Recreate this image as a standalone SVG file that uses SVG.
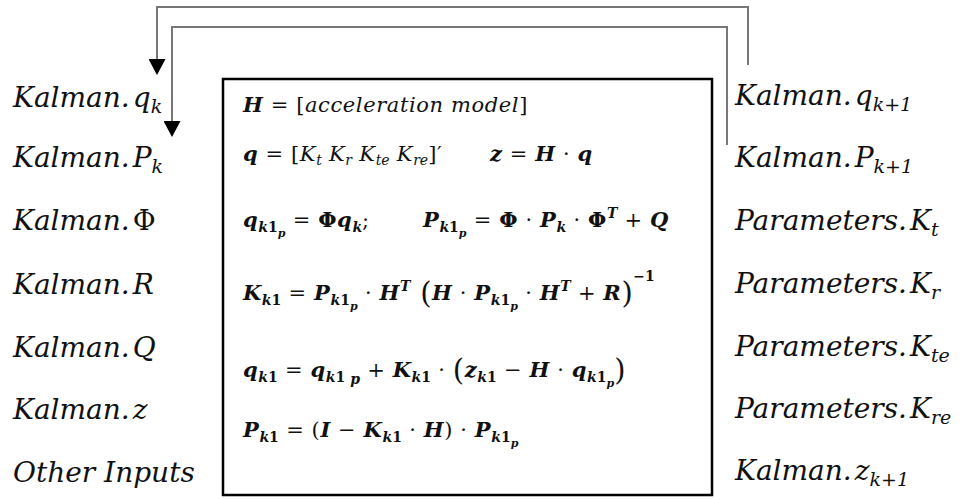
<svg xmlns="http://www.w3.org/2000/svg" width="968" height="499" viewBox="0 0 968 499">
<defs>
<style>
.lbl{font-family:"DejaVu Serif","Liberation Serif",serif;font-style:italic;font-size:28px;fill:#111}
.sub{font-size:19px}
.eq{font-family:"DejaVu Serif","Liberation Serif",serif;font-size:21px;letter-spacing:0.6px;fill:#111}
.b{font-weight:bold;font-style:italic}
.bu{font-weight:bold;font-style:normal}
.i{font-style:italic}
.s{font-size:14px;letter-spacing:0}
.ss{font-size:11px;letter-spacing:0}
.conn{fill:none;stroke:#777;stroke-width:2}
</style>
<marker id="ah" markerUnits="userSpaceOnUse" markerWidth="16" markerHeight="17" refX="0" refY="8.5" orient="auto" viewBox="0 0 16 17">
<path d="M0,0 L16,8.5 L0,17 z" fill="#000"/>
</marker>
</defs>
<rect width="968" height="499" fill="#fff"/>
<g id="connectors">
<path class="conn" d="M748,65 V7 H157 V59" marker-end="url(#ah)"/>
<path class="conn" d="M727,145 V27 H172 V121" marker-end="url(#ah)"/>
</g>
<g id="box">
<rect x="223" y="79" width="489" height="416" fill="none" stroke="#000" stroke-width="2.5"/>
<text class="eq" y="112"><tspan x="243" class="b">H</tspan><tspan> = [</tspan><tspan class="i">acceleration model</tspan><tspan>]</tspan></text>
<text class="eq" y="161"><tspan x="243" class="b">q</tspan><tspan> = [</tspan><tspan class="i">K</tspan><tspan class="i s" y="165">t</tspan><tspan class="i" y="161"> K</tspan><tspan class="i s" y="165">r</tspan><tspan class="i" y="161"> K</tspan><tspan class="i s" y="165">te</tspan><tspan class="i" y="161"> K</tspan><tspan class="i s" y="165">re</tspan><tspan y="161">]′</tspan><tspan x="490" class="b">z</tspan><tspan> = </tspan><tspan class="b">H</tspan><tspan> · </tspan><tspan class="b">q</tspan></text>
<text class="eq" y="227"><tspan x="243" class="b">q</tspan><tspan class="b s" y="232">k</tspan><tspan class="s" font-weight="bold">1</tspan><tspan class="ss b" y="237">p</tspan><tspan y="227"> = </tspan><tspan class="bu">Φ</tspan><tspan class="b">q</tspan><tspan class="b s" y="232">k</tspan><tspan y="227">;</tspan><tspan x="423" class="b">P</tspan><tspan class="b s" y="232">k</tspan><tspan class="s" font-weight="bold">1</tspan><tspan class="ss b" y="237">p</tspan><tspan y="227"> = </tspan><tspan class="bu">Φ</tspan><tspan> · </tspan><tspan class="b">P</tspan><tspan class="b s" y="232">k</tspan><tspan y="227"> · </tspan><tspan class="bu">Φ</tspan><tspan class="b s" y="218">T</tspan><tspan y="227"> + </tspan><tspan class="b">Q</tspan></text>
<text class="eq" y="300"><tspan x="243" class="b">K</tspan><tspan class="b s" y="305">k</tspan><tspan class="s" font-weight="bold">1</tspan><tspan y="300"> = </tspan><tspan class="b">P</tspan><tspan class="b s" y="305">k</tspan><tspan class="s" font-weight="bold">1</tspan><tspan class="ss b" y="310">p</tspan><tspan y="300"> · </tspan><tspan class="b">H</tspan><tspan class="b s" y="291">T</tspan><tspan y="303" font-size="29"> (</tspan><tspan class="b" y="300">H</tspan><tspan> · </tspan><tspan class="b">P</tspan><tspan class="b s" y="305">k</tspan><tspan class="s" font-weight="bold">1</tspan><tspan class="ss b" y="310">p</tspan><tspan y="300"> · </tspan><tspan class="b">H</tspan><tspan class="b s" y="291">T</tspan><tspan y="300"> + </tspan><tspan class="b">R</tspan><tspan y="303" font-size="29">)</tspan><tspan class="s" font-weight="bold" y="281">−1</tspan></text>
<text class="eq" y="377"><tspan x="243" class="b">q</tspan><tspan class="b s" y="382">k</tspan><tspan class="s" font-weight="bold">1</tspan><tspan y="377"> = </tspan><tspan class="b">q</tspan><tspan class="b s" y="382">k</tspan><tspan class="s" font-weight="bold">1 </tspan><tspan class="b s" y="384">p</tspan><tspan y="377"> + </tspan><tspan class="b">K</tspan><tspan class="b s" y="382">k</tspan><tspan class="s" font-weight="bold">1</tspan><tspan y="377"> · </tspan><tspan y="380" font-size="29">(</tspan><tspan class="b" y="377">z</tspan><tspan class="b s" y="382">k</tspan><tspan class="s" font-weight="bold">1</tspan><tspan y="377"> − </tspan><tspan class="b">H</tspan><tspan> · </tspan><tspan class="b">q</tspan><tspan class="b s" y="382">k</tspan><tspan class="s" font-weight="bold">1</tspan><tspan class="ss b" y="387">p</tspan><tspan y="380" font-size="29">)</tspan></text>
<text class="eq" y="437"><tspan x="243" class="b">P</tspan><tspan class="b s" y="442">k</tspan><tspan class="s" font-weight="bold">1</tspan><tspan y="437"> = (</tspan><tspan class="b">I</tspan><tspan> − </tspan><tspan class="b">K</tspan><tspan class="b s" y="442">k</tspan><tspan class="s" font-weight="bold">1</tspan><tspan y="437"> · </tspan><tspan class="b">H</tspan><tspan>) · </tspan><tspan class="b">P</tspan><tspan class="b s" y="442">k</tspan><tspan class="s" font-weight="bold">1</tspan><tspan class="ss b" y="447">p</tspan></text>
</g>
<g id="inputs">
<text id="in-q" class="lbl" x="13" y="107">Kalman.<tspan dx="3">q</tspan><tspan class="sub" y="113">k</tspan></text>
<text id="in-P" class="lbl" x="13" y="167">Kalman.<tspan dx="3">P</tspan><tspan class="sub" y="173">k</tspan></text>
<text id="in-Phi" class="lbl" x="13" y="230">Kalman.<tspan dx="3" font-style="normal">Φ</tspan></text>
<text id="in-R" class="lbl" x="13" y="294">Kalman.<tspan dx="3">R</tspan></text>
<text id="in-Q" class="lbl" x="13" y="357">Kalman.<tspan dx="3">Q</tspan></text>
<text id="in-z" class="lbl" x="13" y="419">Kalman.<tspan dx="3">z</tspan></text>
<text id="in-other" class="lbl" x="13" y="482">Other Inputs</text>
</g>
<g id="outputs">
<text id="out-q" class="lbl" x="735" y="105">Kalman.<tspan dx="3">q</tspan><tspan class="sub" y="111">k+1</tspan></text>
<text id="out-P" class="lbl" x="735" y="167">Kalman.<tspan dx="3">P</tspan><tspan class="sub" y="173">k+1</tspan></text>
<text id="out-Kt" class="lbl" x="735" y="230">Parameters.<tspan dx="3">K</tspan><tspan class="sub" y="236">t</tspan></text>
<text id="out-Kr" class="lbl" x="735" y="293">Parameters.<tspan dx="3">K</tspan><tspan class="sub" y="299">r</tspan></text>
<text id="out-Kte" class="lbl" x="735" y="356">Parameters.<tspan dx="3">K</tspan><tspan class="sub" y="362">te</tspan></text>
<text id="out-Kre" class="lbl" x="735" y="418">Parameters.<tspan dx="3">K</tspan><tspan class="sub" y="424">re</tspan></text>
<text id="out-z" class="lbl" x="735" y="480">Kalman.<tspan dx="3">z</tspan><tspan class="sub" y="486">k+1</tspan></text>
</g>
</svg>
